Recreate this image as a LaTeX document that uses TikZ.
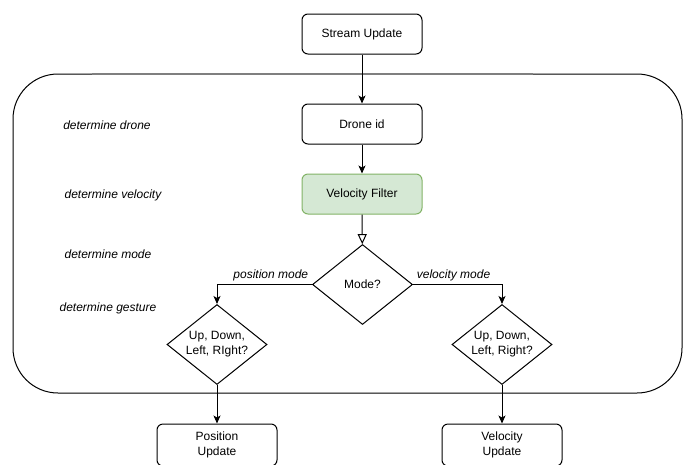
\documentclass[tikz,border=0pt]{standalone}
\usepackage{fontspec}
\setmainfont{Liberation Sans}
\usetikzlibrary{positioning, arrows.meta, shapes.geometric}
\definecolor{filtergreen}{HTML}{D5E8D4}
\definecolor{filterborder}{HTML}{82B366}
\definecolor{lanegray}{HTML}{7F7F7F}

\begin{document}
\begin{tikzpicture}[x=1pt, y=-1pt,
    box/.style={draw, line width=1pt, rounded corners=6pt, minimum width=120pt, minimum height=40pt,
      align=center, font=\fontsize{12}{15}\selectfont},
    decision/.style={draw, line width=1pt, diamond, aspect=1.25, inner sep=0pt, minimum width=100pt,
      minimum height=80pt, align=center, font=\fontsize{12}{15}\selectfont},
    lanelabel/.style={font=\fontsize{12}{15}\selectfont\itshape},
    flow/.style={line width=1pt, -{Stealth[length=8pt, width=7pt, inset=2pt]}}]
      \useasboundingbox (0,0) rectangle (696,464);

      % Group around the per-drone steps
      \node[draw, line width=1pt, rounded corners=45pt, minimum width=669pt, minimum height=319pt,
        inner sep=0pt] (group) at (347.5,233.5) {};
      \draw[lanegray, line width=1.5pt] (92,74) -- (533,74);

      % Flow diagram
      \node[box] (stream) at (362,34) {Stream Update};
      \node[box] (drone) at (362,124) {Drone id};
      \node[box, draw=filterborder, fill=filtergreen] (filter) at (362,194) {Velocity Filter};
      \node[decision] (mode) at (362.5,284.5) {Mode?};
      \node[decision] (posdir) at (217,344.5) {Up, Down,\\Left, RIght?};
      \node[decision] (veldir) at (502,344.5) {Up, Down,\\Left, Right?};
      \node[box, minimum height=42pt] (posupd) at (217,445) {Position\\Update};
      \node[box, minimum height=42pt] (velupd) at (502,445) {Velocity\\Update};

      \draw[flow] (stream) -- (drone);
      \draw[flow] (drone) -- (filter);
      \draw[line width=1pt, -{Triangle[open, length=10pt, width=9pt]}] (filter) -- (mode);
      \draw[flow] (mode.west) -| node[pos=0, above left, lanelabel] (posmode) {position mode} (posdir.north);
      \draw[flow] (mode.east) -| node[pos=0, above right, lanelabel] (velmode) {velocity mode} (veldir.north);
      \draw[flow] (posdir) -- (posupd);
      \draw[flow] (veldir) -- (velupd);

      % Step labels
      \node[lanelabel] (stepdrone) at (107,125) {determine drone};
      \node[lanelabel] (stepvel) at (113,195) {determine velocity};
      \node[lanelabel] (stepmode) at (108,254) {determine mode};
      \node[lanelabel] (stepgesture) at (108,308) {determine gesture};
    \end{tikzpicture}
\end{document}
